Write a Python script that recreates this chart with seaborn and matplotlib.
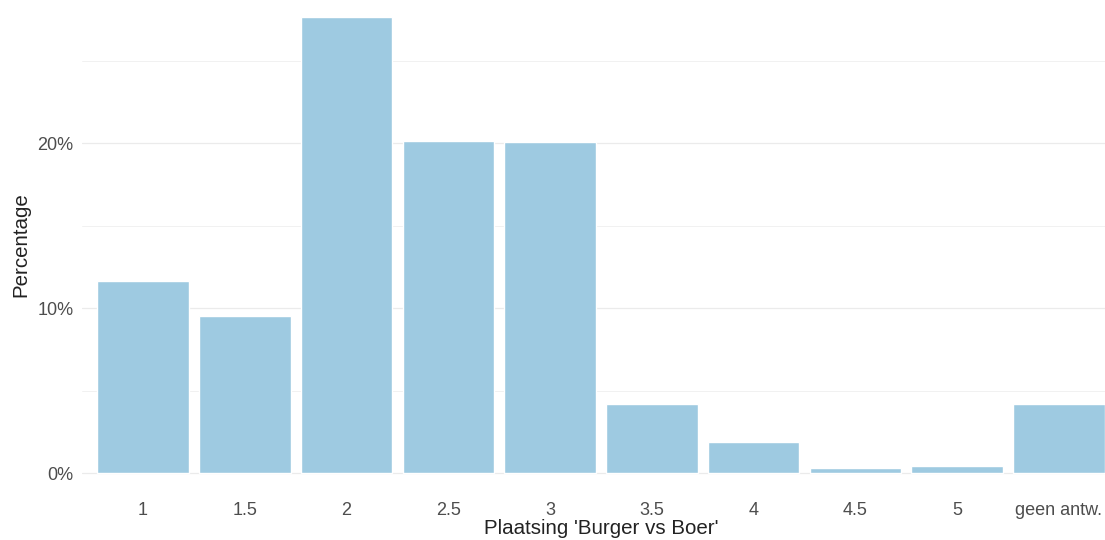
import matplotlib
matplotlib.use('Agg')
import matplotlib.pyplot as plt
import seaborn as sns
import pandas as pd
from matplotlib.ticker import FuncFormatter, MultipleLocator

# share of respondents per position on the 'Burger vs Boer' scale
categories = ['1', '1.5', '2', '2.5', '3', '3.5', '4', '4.5', '5', 'geen antw.']
percentages = [11.65, 9.5, 27.65, 20.1, 20.05, 4.2, 1.9, 0.33, 0.42, 4.2]

bar_colour = '#9ECAE1'
grid_colour = '#EBEBEB'

sns.set_theme(style='white')
plt.rcParams['font.family'] = ['Liberation Sans', 'DejaVu Sans']

df = pd.DataFrame({'plaatsing': categories, 'pct': percentages})

fig = plt.figure(figsize=(11.05, 5.4), dpi=100)
# panel runs a bit past the right and top edge, as in the cropped original
ax = fig.add_axes([82 / 1105, 44 / 540, 1038 / 1105, 502 / 540])

sns.barplot(data=df, x='plaatsing', y='pct', color=bar_colour, saturation=1,
            width=0.9, ax=ax)

ymax = max(percentages)
pad = 0.05 * ymax
ax.set_ylim(-pad, ymax + pad)
ax.set_xlim(-0.6, len(categories) - 0.4)

ax.yaxis.set_major_locator(MultipleLocator(10))
ax.yaxis.set_minor_locator(MultipleLocator(5))
ax.yaxis.set_major_formatter(FuncFormatter(lambda v, _: f'{v:.0f}%'))
ax.grid(axis='y', which='major', color=grid_colour, linewidth=0.9)
ax.grid(axis='y', which='minor', color=grid_colour, linewidth=0.5)
ax.grid(axis='x', visible=False)
ax.set_axisbelow(True)

for s in ax.spines.values():
    s.set_visible(False)

ax.tick_params(axis='both', which='both', length=0, labelsize=13, labelcolor='#4D4D4D')
ax.tick_params(axis='y', pad=6)
ax.tick_params(axis='x', pad=4.5)

ax.set_xlabel("Plaatsing 'Burger vs Boer'", fontsize=14.8, color='#222222')
ax.set_ylabel('Percentage', fontsize=14.8, color='#222222', labelpad=5)
ax.xaxis.set_label_coords(0.5, -0.046)

fig.savefig('out.png', dpi=100)
plt.close()
